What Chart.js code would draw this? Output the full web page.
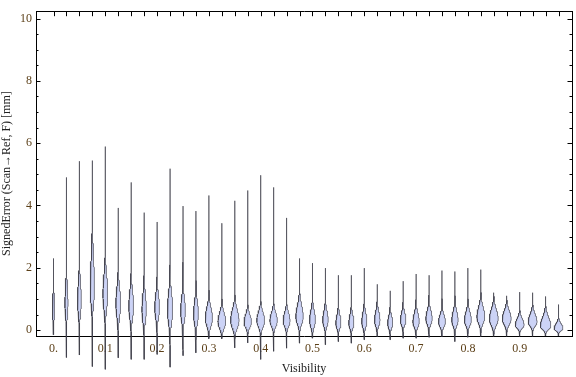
<!DOCTYPE html>
<html>
<head>
<meta charset="utf-8">
<script src="https://cdn.jsdelivr.net/npm/chart.js@4/dist/chart.umd.min.js"></script>
<style>
  body { margin: 0; background: #fff; }
  canvas { display: block; }
</style>
</head>
<body>
<canvas id="chart" width="576" height="377"></canvas>
<script>
// visibility bins (one violin each)
const visibility = [0, 0.025, 0.05, 0.075, 0.1, 0.125, 0.15, 0.175, 0.2, 0.225,
  0.25, 0.275, 0.3, 0.325, 0.35, 0.375, 0.4, 0.425, 0.45, 0.475,
  0.5, 0.525, 0.55, 0.575, 0.6, 0.625, 0.65, 0.675, 0.7, 0.725,
  0.75, 0.775, 0.8, 0.825, 0.85, 0.875, 0.9, 0.925, 0.95, 0.975];

// lowest / highest signed error in each bin [mm]
const errMin = [-0.15, -0.88, -0.80, -1.17, -1.26, -0.89, -0.94, -0.94, -0.78, -1.19,
  -0.82, -0.73, -0.28, -0.28, -0.57, -0.41, -0.94, -0.68, -0.58, -0.42,
  -0.26, -0.47, -0.37, -0.42, -0.31, -0.21, -0.31, -0.26, -0.26, -0.23,
  -0.21, -0.37, -0.23, -0.21, -0.20, -0.20, -0.20, -0.20, -0.19, -0.19];
const errMax = [2.30, 4.90, 5.42, 5.44, 5.89, 3.92, 4.74, 3.77, 3.47, 5.18,
  3.98, 3.82, 4.32, 3.43, 4.15, 4.48, 4.97, 4.58, 3.60, 2.30,
  2.15, 1.99, 1.76, 1.76, 1.99, 1.47, 1.26, 1.57, 1.80, 1.76,
  1.91, 1.88, 1.99, 1.94, 1.20, 1.10, 1.22, 1.20, 1.08, 0.82];

// most frequent error (widest point of the violin)
const errMode = [0.70, 0.85, 0.95, 1.30, 1.15, 0.85, 0.75, 0.65, 0.72, 0.65,
  0.62, 0.52, 0.38, 0.27, 0.31, 0.26, 0.30, 0.30, 0.30, 0.42,
  0.31, 0.31, 0.21, 0.21, 0.26, 0.31, 0.21, 0.31, 0.26, 0.36,
  0.26, 0.31, 0.31, 0.42, 0.36, 0.36, 0.16, 0.26, 0.12, 0.05];

// relative density at the mode (half width in visibility units)
const modeDensity = [0.0024, 0.0031, 0.0038, 0.0042, 0.0047, 0.0047, 0.0047, 0.0043, 0.0047, 0.0051,
  0.0047, 0.0048, 0.0070, 0.0075, 0.0082, 0.0072, 0.0076, 0.0072, 0.0067, 0.0072,
  0.0058, 0.0054, 0.0050, 0.0050, 0.0050, 0.0054, 0.0050, 0.0054, 0.0062, 0.0062,
  0.0068, 0.0062, 0.0068, 0.0076, 0.0086, 0.0086, 0.0086, 0.0086, 0.0102, 0.0086];

// spread of the error below / above the mode
const spreadLow = [0.28, 0.36, 0.40, 0.45, 0.45, 0.40, 0.36, 0.36, 0.32, 0.40,
  0.32, 0.30, 0.24, 0.21, 0.24, 0.17, 0.20, 0.18, 0.18, 0.22,
  0.20, 0.18, 0.15, 0.15, 0.17, 0.17, 0.15, 0.15, 0.16, 0.17,
  0.15, 0.17, 0.16, 0.20, 0.20, 0.18, 0.10, 0.13, 0.10, 0.07];
const spreadHigh = [0.36, 0.52, 0.55, 0.95, 0.58, 0.48, 0.48, 0.48, 0.40, 0.52,
  0.40, 0.38, 0.33, 0.28, 0.33, 0.23, 0.27, 0.25, 0.25, 0.36,
  0.30, 0.28, 0.26, 0.26, 0.28, 0.27, 0.23, 0.24, 0.27, 0.26,
  0.22, 0.28, 0.26, 0.31, 0.29, 0.25, 0.20, 0.24, 0.28, 0.15];

const xTickValues = [0, 0.1, 0.2, 0.3, 0.4, 0.5, 0.6, 0.7, 0.8, 0.9];
const xTickLabels = ['0.', '0.1', '0.2', '0.3', '0.4', '0.5', '0.6', '0.7', '0.8', '0.9'];
const yTickValues = [0, 2, 4, 6, 8, 10];
const yTickLabels = ['0', '2', '4', '6', '8', '10'];

// outline of one violin: up the right side, back down the left side
function violinOutline(i) {
  const n = 200;
  const right = [], left = [];
  for (let k = 0; k <= n; k++) {
    const y = errMin[i] + (errMax[i] - errMin[i]) * k / n;
    const s = y < errMode[i] ? spreadLow[i] : spreadHigh[i];
    const z = (y - errMode[i]) / s;
    const w = modeDensity[i] * Math.exp(-0.5 * z * z);
    right.push({ x: visibility[i] + w, y: y });
    left.push({ x: visibility[i] - w, y: y });
  }
  return right.concat(left.reverse());
}

// Mathematica style ticks pointing into the frame
const frameTicks = {
  id: 'frameTicks',
  afterDraw(chart) {
    const ctx = chart.ctx;
    const a = chart.chartArea;
    const x = chart.scales.x, y = chart.scales.y;
    ctx.save();
    ctx.strokeStyle = '#000';
    ctx.lineWidth = 1;
    ctx.beginPath();
    for (let k = 0; k <= 20; k++) {
      const py = Math.round(y.getPixelForValue(k / 2)) + 0.5;
      const len = k % 4 === 0 ? 4.5 : 2.5;
      ctx.moveTo(a.left, py); ctx.lineTo(a.left + len, py);
      ctx.moveTo(a.right, py); ctx.lineTo(a.right - len, py);
    }
    visibility.forEach(v => {
      const px = Math.round(x.getPixelForValue(v)) + 0.5;
      ctx.moveTo(px, a.top); ctx.lineTo(px, a.top + 5);
    });
    ctx.stroke();
    ctx.restore();
  }
};

const serif = 'Liberation Serif';
const tickFont = { family: serif, size: 12 };
const tickColor = '#5b3f17';

new Chart(document.getElementById('chart'), {
  type: 'scatter',
  data: {
    datasets: visibility.map((v, i) => ({
      data: violinOutline(i),
      showLine: true,
      fill: 'shape',
      backgroundColor: 'rgb(204, 211, 246)',
      borderColor: 'rgba(60, 60, 70, 0.65)',
      borderWidth: 1,
      pointRadius: 0,
      tension: 0,
      clip: false
    }))
  },
  options: {
    responsive: false,
    animation: false,
    layout: { padding: { top: 4, right: 4, left: 0, bottom: 0 } },
    plugins: { legend: { display: false }, tooltip: { enabled: false } },
    scales: {
      x: {
        type: 'linear', position: 'bottom', min: -0.0338, max: 1.001,
        afterBuildTicks: s => { s.ticks = xTickValues.map(v => ({ value: v })); },
        afterFit: s => { s.height = 41; },
        ticks: {
          callback: (v, idx) => xTickLabels[idx],
          font: tickFont, color: tickColor, padding: 6,
          maxRotation: 0, autoSkip: false
        },
        grid: { drawOnChartArea: false, drawTicks: false },
        border: { color: '#000', width: 1 },
        title: {
          display: true, text: 'Visibility', color: '#222',
          font: { family: serif, size: 12 }, padding: { top: 0, bottom: 1 }
        }
      },
      xTop: {
        type: 'linear', position: 'top', min: -0.0338, max: 1.001,
        afterFit: s => { s.height = 0; },
        ticks: { display: false },
        grid: { drawOnChartArea: false, drawTicks: false },
        border: { color: '#000', width: 1 }
      },
      y: {
        type: 'linear', position: 'left', min: -0.19, max: 10.235,
        afterBuildTicks: s => { s.ticks = yTickValues.map(v => ({ value: v })); },
        afterFit: s => { s.width = 36; },
        ticks: {
          callback: (v, idx) => yTickLabels[idx],
          font: tickFont, color: tickColor, padding: 4
        },
        grid: { drawOnChartArea: false, drawTicks: false },
        border: { color: '#000', width: 1 },
        title: {
          display: true, text: 'SignedError (Scan\u2192Ref, F) [mm]', color: '#222',
          font: { family: serif, size: 12 }, padding: { top: 0, bottom: 0 }
        }
      },
      yRight: {
        type: 'linear', position: 'right', min: -0.19, max: 10.235,
        afterFit: s => { s.width = 0; },
        ticks: { display: false },
        grid: { drawOnChartArea: false, drawTicks: false },
        border: { color: '#000', width: 1 }
      }
    }
  },
  plugins: [frameTicks]
});
</script>
</body>
</html>
